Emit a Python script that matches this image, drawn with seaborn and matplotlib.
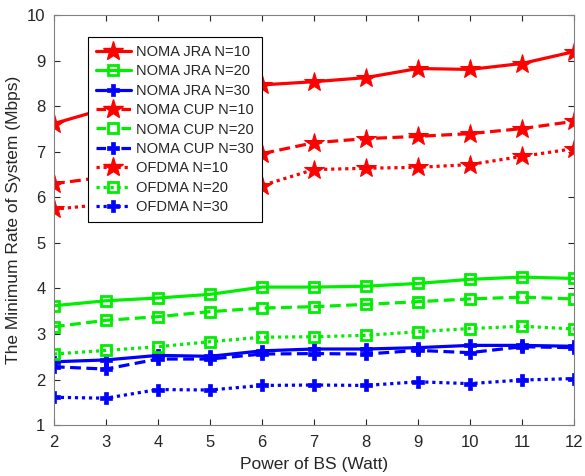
import numpy as np
import pandas as pd
import matplotlib
matplotlib.use("Agg")
import matplotlib.pyplot as plt
from matplotlib.lines import Line2D
import seaborn as sns

# === Data ===
power = [2, 3, 4, 5, 6, 7, 8, 9, 10, 11, 12]

noma_jra_10 = [7.62, 7.95, 8.15, 8.30, 8.47, 8.54, 8.63, 8.83, 8.81, 8.94, 9.20]
noma_jra_20 = [3.62, 3.73, 3.79, 3.87, 4.03, 4.03, 4.05, 4.11, 4.20, 4.25, 4.22]
noma_jra_30 = [2.39, 2.43, 2.53, 2.51, 2.63, 2.67, 2.67, 2.70, 2.75, 2.75, 2.73]
noma_cup_10 = [6.30, 6.45, 6.60, 6.80, 6.96, 7.20, 7.29, 7.34, 7.40, 7.51, 7.67]
noma_cup_20 = [3.16, 3.30, 3.38, 3.49, 3.57, 3.60, 3.65, 3.71, 3.77, 3.81, 3.77]
noma_cup_30 = [2.28, 2.23, 2.45, 2.45, 2.56, 2.57, 2.56, 2.64, 2.59, 2.72, 2.70]
ofdma_10 = [5.74, 5.85, 5.95, 6.10, 6.26, 6.61, 6.64, 6.66, 6.72, 6.90, 7.07]
ofdma_20 = [2.56, 2.64, 2.72, 2.83, 2.93, 2.94, 2.97, 3.05, 3.12, 3.17, 3.11]
ofdma_30 = [1.61, 1.59, 1.78, 1.77, 1.87, 1.88, 1.87, 1.95, 1.91, 1.99, 2.02]

labels = ["NOMA JRA N=10", "NOMA JRA N=20", "NOMA JRA N=30",
          "NOMA CUP N=10", "NOMA CUP N=20", "NOMA CUP N=30",
          "OFDMA N=10", "OFDMA N=20", "OFDMA N=30"]
series = [noma_jra_10, noma_jra_20, noma_jra_30,
          noma_cup_10, noma_cup_20, noma_cup_30,
          ofdma_10, ofdma_20, ofdma_30]

# === Styles ===
red, green, blue = "#ff0000", "#00ee00", "#0000ff"
colors = [red, green, blue] * 3
dashes = ["-"] * 3 + [(0, (3.4, 1.7))] * 3 + [(0, (1, 1.2))] * 3
leg_dashes = ["-"] * 3 + [(0, (3, 4.8))] * 3 + [(0, (1, 1.2))] * 3
markers = ["*", "s", "P"] * 3

sns.set_style("white")
plt.rcParams["font.family"] = ["Liberation Sans", "DejaVu Sans"]

fig = plt.figure(figsize=(5.85, 4.76), dpi=100)
ax = fig.add_axes([0.092, 0.107, 0.889, 0.861])


def marker_kw(m, c):
    if m == "*":
        return dict(markersize=15, markerfacecolor=c, markeredgecolor=c)
    if m == "s":
        return dict(markersize=7, markerfacecolor="none", markeredgecolor=c, markeredgewidth=2)
    return dict(markersize=8, markerfacecolor=c, markeredgecolor=c, markeredgewidth=0.5)


handles = []
for lab, vals, c, ls, lls, m in zip(labels, series, colors, dashes, leg_dashes, markers):
    df = pd.DataFrame({"power": power, "rate": vals})
    sns.lineplot(data=df, x="power", y="rate", ax=ax, color=c, linestyle=ls,
                 linewidth=2.3, marker=m, legend=False, **marker_kw(m, c))
    handles.append(Line2D([], [], color=c, linestyle=lls, linewidth=2.3,
                          marker=m, **marker_kw(m, c)))

ax.set_xlim(2, 12)
ax.set_ylim(1, 10)
ax.set_xticks(range(2, 13))
ax.set_yticks(range(1, 11))
ax.set_xlabel("Power of BS (Watt)", fontsize=12.5, color="#262626", labelpad=5)
ax.set_ylabel("The Minimum Rate of System (Mbps)", fontsize=12.5, color="#262626", labelpad=4)
ax.tick_params(direction="in", length=4, width=0.8, labelsize=12, colors="#262626",
               top=True, right=True, bottom=True, left=True)
ax.tick_params(axis="x", pad=7)
ax.tick_params(axis="y", pad=6)
for sp in ax.spines.values():
    sp.set_color("#808080")
    sp.set_linewidth(0.8)

leg = ax.legend(handles=handles, labels=labels, loc="upper left",
                bbox_to_anchor=(0.065, 0.947), fontsize=10.5,
                frameon=True, fancybox=False, edgecolor="black", framealpha=1,
                borderpad=0.55, labelspacing=0.37, handlelength=2.4, handletextpad=0.35,
                borderaxespad=0)
leg.get_frame().set_linewidth(0.8)

plt.savefig("out.png", dpi=100)
